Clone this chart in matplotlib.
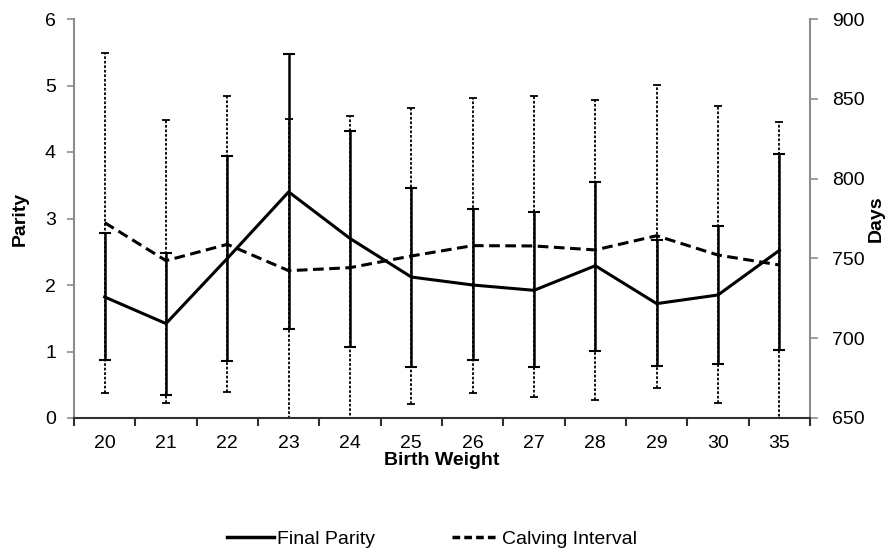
import numpy as np
import matplotlib
matplotlib.use("Agg")
import matplotlib.pyplot as plt

plt.rcParams['font.family'] = ['Liberation Sans', 'DejaVu Sans']

weights = ["20", "21", "22", "23", "24", "25", "26", "27", "28", "29", "30", "35"]

# final parity: mean, lower and upper end of the bar
parity = [1.82, 1.42, 2.40, 3.40, 2.70, 2.12, 2.00, 1.92, 2.29, 1.72, 1.85, 2.52]
parity_lo = [0.87, 0.35, 0.85, 1.34, 1.07, 0.76, 0.87, 0.76, 1.01, 0.78, 0.81, 1.03]
parity_hi = [2.78, 2.48, 3.94, 5.47, 4.32, 3.46, 3.15, 3.10, 3.55, 2.67, 2.89, 3.97]

# calving interval (days)
calving = [772.4, 748.6, 758.8, 742.3, 744.2, 751.5, 758.0, 757.8, 755.3, 764.2, 752.1, 745.9]
calving_lo = [665.5, 659.2, 666.0, 647.0, 649.0, 658.6, 665.5, 663.0, 661.3, 669.0, 659.6, 648.0]
calving_hi = [878.9, 836.7, 851.8, 837.3, 839.2, 844.0, 850.7, 851.9, 849.2, 858.6, 845.5, 835.5]

x = np.arange(len(weights))

fig = plt.figure(figsize=(8.89, 5.49), dpi=100)
ax = fig.add_axes([74/889, 1-418/549, (810-74)/889, (418-19)/549])
ax2 = ax.twinx()
ax.set_zorder(ax2.get_zorder() + 1)
ax.patch.set_visible(False)

# dashed series on the right axis
c_err = [np.array(calving) - np.array(calving_lo), np.array(calving_hi) - np.array(calving)]
_, caps2, bars2 = ax2.errorbar(x, calving, yerr=c_err, color='black', lw=2.2,
                               dashes=(3.5, 1.8), elinewidth=1.3, capsize=3, capthick=1.3)
bars2[0].set_linestyle((0, (1.5, 1)))

p_err = [np.array(parity) - np.array(parity_lo), np.array(parity_hi) - np.array(parity)]
ax.errorbar(x, parity, yerr=p_err, color='black', lw=2.2,
            elinewidth=1.8, capsize=4, capthick=1.5)

ax.set_xlim(-0.5, len(weights) - 0.5)
ax.set_ylim(0, 6)
ax2.set_ylim(650, 900)
ax.set_yticks(range(0, 7))
ax2.set_yticks(range(650, 901, 50))

ax.set_xticks(np.arange(-0.5, len(weights), 1.0))
ax.set_xticklabels([])
ax.set_xticks(x, minor=True)
ax.set_xticklabels(weights, minor=True)
ax.tick_params(axis='x', which='major', length=6, width=1.5, color='#303030')
ax.tick_params(axis='x', which='minor', length=0, pad=12, labelsize=14)
ax.tick_params(axis='y', length=5, width=1.2, color='#8c8c8c', pad=8, labelsize=14)
ax2.tick_params(axis='y', length=6, width=1.2, color='#8c8c8c', pad=10, labelsize=14)

for a in (ax, ax2):
    a.spines['top'].set_visible(False)
ax.spines['right'].set_visible(False)
ax2.spines['left'].set_visible(False)
ax2.spines['bottom'].set_visible(False)
ax.spines['left'].set_color('#8c8c8c')
ax.spines['left'].set_linewidth(1.5)
ax2.spines['right'].set_color('#8c8c8c')
ax2.spines['right'].set_linewidth(1.5)
ax.spines['bottom'].set_color('#303030')
ax.spines['bottom'].set_linewidth(1.5)

ax.set_xlabel("Birth Weight", fontsize=14, fontweight='bold', labelpad=0)
ax.set_ylabel("Parity", fontsize=14, fontweight='bold', labelpad=12)
ax2.set_ylabel("Days", fontsize=14, fontweight='bold', labelpad=2)

h1 = plt.Line2D([], [], color='black', lw=2.5)
h2 = plt.Line2D([], [], color='black', lw=2.5, dashes=(2.2, 1.2))
fig.legend([h1, h2], ["Final Parity", "Calving Interval"], loc='center',
           bbox_to_anchor=(432/889, 1-539/549), ncol=2, frameon=False, fontsize=14,
           handlelength=2.4, handletextpad=0.15, columnspacing=4.0)

fig.savefig("out.png", dpi=100)
